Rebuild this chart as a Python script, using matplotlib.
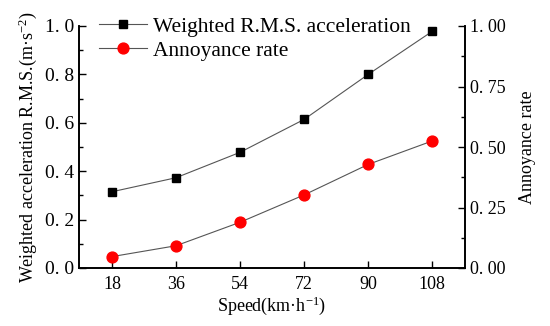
import matplotlib
matplotlib.use("Agg")
import matplotlib.pyplot as plt
from matplotlib.ticker import MultipleLocator, FuncFormatter

plt.rcParams['font.family'] = ['Liberation Serif', 'DejaVu Serif']
plt.rcParams['mathtext.fontset'] = 'custom'
plt.rcParams['mathtext.rm'] = 'Liberation Serif'
plt.rcParams['mathtext.default'] = 'regular'

speed = [18, 36, 54, 72, 90, 108]
rms_acc = [0.315, 0.373, 0.478, 0.614, 0.80, 0.978]
annoyance = [0.047, 0.092, 0.189, 0.302, 0.428, 0.525]

fig = plt.figure(figsize=(5.5, 3.26), dpi=100)
ax = fig.add_axes([79/550, 1-268/326, (465-79)/550, (268-26)/326])
ax2 = ax.twinx()

l1, = ax.plot(speed, rms_acc, color='#555555', lw=0.8, marker='s', ms=6.2,
              mfc='black', mec='black', label='Weighted R.M.S. acceleration')
l2, = ax2.plot(speed, annoyance, color='#555555', lw=0.8, marker='o', ms=7.8,
               mfc='red', mec='red', label='Annoyance rate')

ax.set_xlim(8.75, 117.2)
ax.set_ylim(0, 1.0)
ax2.set_ylim(0, 1.0)
ax.set_xticks(speed)
ax.yaxis.set_major_locator(MultipleLocator(0.2))
ax.yaxis.set_minor_locator(MultipleLocator(0.1))
ax2.yaxis.set_major_locator(MultipleLocator(0.25))
ax2.yaxis.set_minor_locator(MultipleLocator(0.125))
ax.yaxis.set_major_formatter(FuncFormatter(lambda v, p: f"{v:.1f}".replace('.', '. ')))
ax2.yaxis.set_major_formatter(FuncFormatter(lambda v, p: f"{v:.2f}".replace('.', '. ')))

for a in (ax, ax2):
    a.spines['top'].set_visible(False)
    for s in a.spines.values():
        s.set_linewidth(1.2)
ax.tick_params(axis='both', which='major', direction='in', length=5, width=1.0, labelsize=13)
ax.tick_params(axis='y', which='minor', direction='in', length=3, width=1.0)
ax.tick_params(axis='y', labelsize=14)
ax2.tick_params(axis='y', which='major', direction='in', length=5, width=1.0, labelsize=13)
ax2.tick_params(axis='y', which='minor', direction='in', length=3, width=1.0)
ax.tick_params(axis='x', pad=6)

ax.set_xlabel('Speed(km·h$^{-1}$)', fontsize=13, labelpad=1)
ax.set_ylabel('Weighted acceleration R.M.S.(m·s$^{-2}$)', fontsize=13, labelpad=4)
ax2.set_ylabel('Annoyance rate', fontsize=13, labelpad=10, rotation=90)

leg = ax.legend(handles=[l1, l2], loc='upper left', bbox_to_anchor=(0.03, 1.075),
                frameon=False, fontsize=15.5, handlelength=2.2, handletextpad=0.3,
                labelspacing=0.2, borderaxespad=0)

fig.savefig('out.png', dpi=100)
